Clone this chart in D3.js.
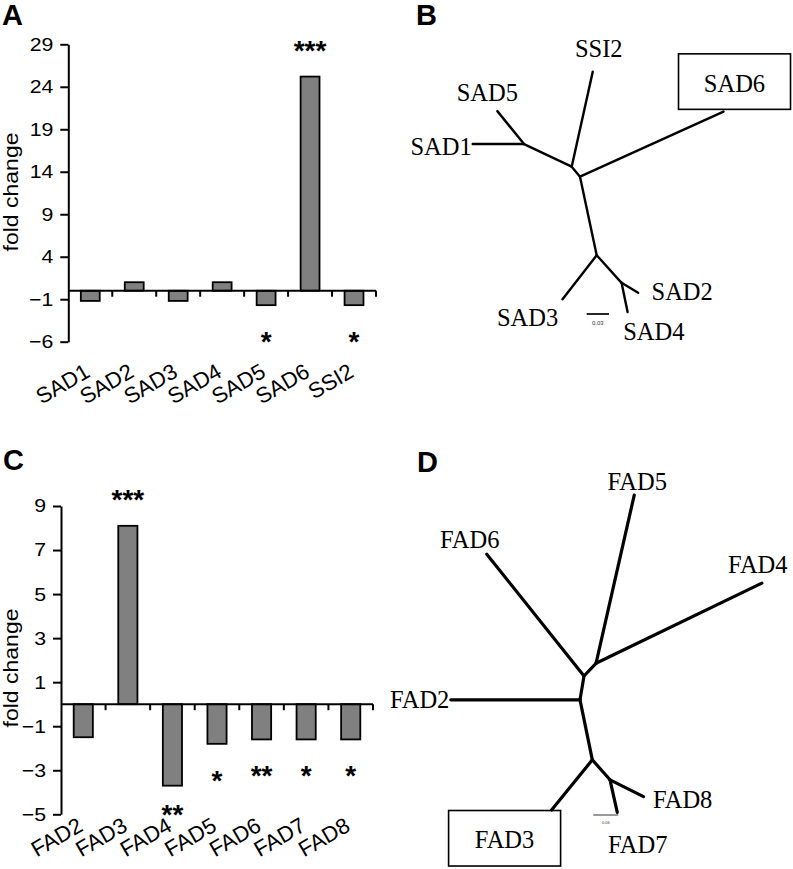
<!DOCTYPE html>
<html>
<head>
<meta charset="utf-8">
<script src="https://cdn.jsdelivr.net/npm/d3@7/dist/d3.min.js"></script>
<style>
  html, body { margin: 0; padding: 0; background: #fff; }
  svg { display: block; }
</style>
</head>
<body>
<main></main>
<script>
// ---- data ----
var sadGenes = ["SAD1", "SAD2", "SAD3", "SAD4", "SAD5", "SAD6", "SSI2"];
var sadFold = [-1.2, 1.0, -1.2, 1.0, -1.7, 25.2, -1.7];
var sadSig = ["", "", "", "", "*", "***", "*"];
var sadTicks = [-6, -1, 4, 9, 14, 19, 24, 29];

var fadGenes = ["FAD2", "FAD3", "FAD4", "FAD5", "FAD6", "FAD7", "FAD8"];
var fadFold = [-1.5, 8.1, -3.7, -1.8, -1.6, -1.6, -1.6];
var fadSig = ["", "***", "**", "*", "**", "*", "*"];
var fadTicks = [-5, -3, -1, 1, 3, 5, 7, 9];

// tree edges: [child, parent, branch length, angle in degrees]
var sadTree = [
  ["n1", "root", 0.0175, 129.7],
  ["n2", "n1", 0.071, 154.6],
  ["SAD1", "n2", 0.069, 180],
  ["SAD5", "n2", 0.057, 129],
  ["SSI2", "n1", 0.131, 77.5],
  ["SAD6", "root", 0.212, 24.4],
  ["n3", "root", 0.108, -78],
  ["SAD3", "n3", 0.075, -127.8],
  ["n4", "n3", 0.050, -48],
  ["SAD2", "n4", 0.026, -31],
  ["SAD4", "n4", 0.040, -78.3]
];
var sadTreeBar = 0.03;

var fadTree = [
  ["m1", "root", 0.042, 46.6],
  ["FAD5", "m1", 0.414, 77.2],
  ["FAD4", "m1", 0.442, 25.8],
  ["FAD6", "root", 0.374, 128.6],
  ["m2", "root", 0.058, -99.5],
  ["FAD2", "m2", 0.310, 180],
  ["m3", "m2", 0.147, -78.4],
  ["FAD3", "m3", 0.155, -129.1],
  ["m4", "m3", 0.064, -48.5],
  ["FAD8", "m4", 0.090, -26.6],
  ["FAD7", "m4", 0.080, -77.4]
];
var fadTreeBar = 0.06;

// ---- layout ----
var width = 793, height = 869;
var sans = "'Liberation Sans', Arial, sans-serif";
var serif = "'Liberation Serif', 'Times New Roman', serif";
var stretch = 1.15;

var svg = d3.select('main').append('svg')
  .attr('width', width)
  .attr('height', height);

svg.append('rect').attr('width', width).attr('height', height).attr('fill', '#fff');

function panelLetter(t, x, y) {
  svg.append('text').attr('x', x).attr('y', y).text(t)
    .attr('font-family', sans).attr('font-weight', 'bold').attr('font-size', 29);
}

function drawBars(genes, vals, sig, ticks, L) {
  var g = svg.append('g');
  var y = d3.scaleLinear().domain([ticks[0], ticks[ticks.length - 1]]).range([L.yBot, L.yTop]);
  var x = d3.scaleBand().domain(genes).range([L.x0, L.x1]).paddingInner(0.57).paddingOuter(0.285);
  var y0 = y(0);

  g.selectAll('.bar').data(genes).enter().append('rect')
    .attr('x', function(d) { return x(d); })
    .attr('width', x.bandwidth())
    .attr('y', function(d, i) { return Math.min(y(vals[i]), y0); })
    .attr('height', function(d, i) { return Math.abs(y(vals[i]) - y0); })
    .attr('fill', '#808080')
    .attr('stroke', '#000')
    .attr('stroke-width', 1.8);

  // x axis at zero with ticks on category boundaries
  g.append('line').attr('x1', L.x0).attr('x2', L.x1).attr('y1', y0).attr('y2', y0)
    .attr('stroke', '#000').attr('stroke-width', 2);
  g.selectAll('.xt').data(genes).enter().append('line')
    .attr('x1', function(d) { return x(d) - x.step() * x.paddingInner() / 2 + x.step(); })
    .attr('x2', function(d) { return x(d) - x.step() * x.paddingInner() / 2 + x.step(); })
    .attr('y1', y0).attr('y2', y0 + 6)
    .attr('stroke', '#000').attr('stroke-width', 2);

  // y axis
  var ax = g.append('g').attr('transform', 'translate(' + L.x0 + ',0)')
    .call(d3.axisLeft(y).tickValues(ticks).tickSize(8).tickSizeOuter(0).tickFormat(d3.format('d')));
  ax.select('.domain').attr('stroke-width', 2);
  ax.selectAll('.tick line').attr('stroke-width', 2);
  ax.selectAll('.tick text')
    .attr('x', -L.gap / stretch)
    .attr('transform', 'scale(' + stretch + ',1)')
    .attr('font-family', sans).attr('font-size', 18.5).attr('fill', '#000');

  // y label
  g.append('text')
    .attr('transform', 'translate(18,' + L.labY + ') rotate(-90) scale(' + stretch + ',1)')
    .attr('text-anchor', 'middle')
    .attr('font-family', sans).attr('font-size', 20)
    .text('fold change');

  // category labels
  g.selectAll('.cat').data(genes).enter().append('text')
    .attr('transform', function(d) {
      return 'translate(' + (x(d) + x.bandwidth() / 2 + 1) + ',' + L.catY + ') rotate(-30)';
    })
    .attr('text-anchor', 'end')
    .attr('font-family', sans).attr('font-size', 22)
    .text(function(d) { return d; });

  // significance stars
  g.selectAll('.sig').data(genes).enter().append('text')
    .attr('x', function(d) { return x(d) + x.bandwidth() / 2; })
    .attr('y', function(d, i) {
      var v = vals[i], c;
      if (v > 0) c = y(v) - 33;
      else c = Math.min(y(v) + 30, L.yBot - 6);
      return c + 16;
    })
    .attr('text-anchor', 'middle')
    .attr('font-family', sans).attr('font-weight', 'bold').attr('font-size', 28)
    .text(function(d, i) { return sig[i]; });
}

function drawTree(edges, barLen, L) {
  var g = svg.append('g');
  var pos = { root: [0, 0] };
  edges.forEach(function(e) {
    var p = pos[e[1]], a = e[3] * Math.PI / 180;
    pos[e[0]] = [p[0] + e[2] * Math.cos(a), p[1] + e[2] * Math.sin(a)];
  });
  var sx = d3.scaleLinear().domain([0, 1]).range([L.rx, L.rx + L.k]);
  var sy = d3.scaleLinear().domain([0, 1]).range([L.ry, L.ry - L.k]);

  g.selectAll('.br').data(edges).enter().append('line')
    .attr('x1', function(e) { return sx(pos[e[1]][0]); })
    .attr('y1', function(e) { return sy(pos[e[1]][1]); })
    .attr('x2', function(e) { return sx(pos[e[0]][0]); })
    .attr('y2', function(e) { return sy(pos[e[0]][1]); })
    .attr('stroke', '#000').attr('stroke-width', L.sw).attr('stroke-linecap', 'round');

  var leaves = edges.filter(function(e) { return L.labels[e[0]]; });
  leaves.forEach(function(e) {
    var o = L.labels[e[0]];
    var tx = sx(pos[e[0]][0]) + o[1], ty = sy(pos[e[0]][1]) + o[2];
    g.append('text').attr('x', tx).attr('y', ty)
      .attr('text-anchor', o[0])
      .attr('font-family', serif).attr('font-size', 24.5)
      .text(e[0]);
    if (e[0] === L.boxed) {
      g.append('rect').attr('x', tx - 56).attr('y', ty - 10 - 27.75)
        .attr('width', 112).attr('height', 55.5)
        .attr('fill', 'none').attr('stroke', '#000').attr('stroke-width', 1.6);
    }
  });

  // scale bar
  var bx = L.bar[0], by = L.bar[1];
  var bl = sx(barLen) - sx(0);
  g.append('line').attr('x1', bx).attr('x2', bx + bl).attr('y1', by).attr('y2', by)
    .attr('stroke', '#000').attr('stroke-width', L.barW);
  g.append('text').attr('x', bx + bl / 2).attr('y', by + L.barFs + 5)
    .attr('text-anchor', 'middle')
    .attr('font-family', sans).attr('font-size', L.barFs).attr('fill', '#333')
    .text(barLen.toFixed(2));
}

panelLetter('A', 2, 25);
panelLetter('B', 416, 25);
panelLetter('C', 3, 470);
panelLetter('D', 417, 471.5);

drawBars(sadGenes, sadFold, sadSig, sadTicks,
  { x0: 68.3, x1: 376, yTop: 44.3, yBot: 341.7, gap: 15, labY: 192, catY: 376 });
drawBars(fadGenes, fadFold, fadSig, fadTicks,
  { x0: 61, x1: 373, yTop: 506, yBot: 814.3, gap: 15, labY: 668, catY: 830 });

drawTree(sadTree, sadTreeBar, {
  rx: 580, ry: 176.7, k: 743.3, sw: 2.4, boxed: 'SAD6',
  bar: [586.7, 314], barW: 1.7, barFs: 6,
  labels: {
    SSI2: ['middle', 6, -14.4], SAD5: ['middle', -10, -10.3], SAD1: ['end', -1, 11],
    SAD6: ['middle', 11, -20], SAD2: ['start', 13.4, 7.3], SAD3: ['middle', -35, 26.7],
    SAD4: ['start', -4.4, 28.3]
  }
});
drawTree(fadTree, fadTreeBar, {
  rx: 584, ry: 676, k: 416.7, sw: 3.2, boxed: 'FAD3',
  bar: [593.3, 815], barW: 0.8, barFs: 4,
  labels: {
    FAD5: ['middle', 3, -5], FAD6: ['middle', -17, -6.6], FAD4: ['middle', -4, -10],
    FAD2: ['end', -1.5, 8.3], FAD8: ['start', 9.4, 11.6], FAD3: ['middle', -47, 38.3],
    FAD7: ['middle', 20.5, 40.6]
  }
});
</script>
</body>
</html>
